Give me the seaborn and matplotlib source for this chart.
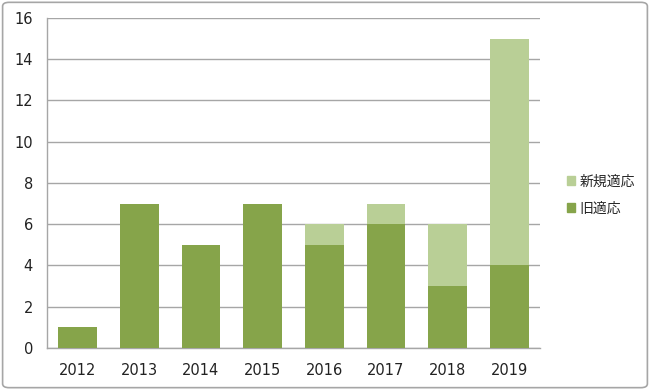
import pandas as pd
import matplotlib.pyplot as plt
import seaborn as sns
from matplotlib.patches import FancyBboxPatch, Patch

years = ['2012', '2013', '2014', '2015', '2016', '2017', '2018', '2019']
old_cases = [1, 7, 5, 7, 5, 6, 3, 4]      # 旧適応
new_cases = [0, 0, 0, 0, 1, 1, 3, 11]     # 新規適応

df = pd.DataFrame({'year': years, 'old': old_cases, 'new': new_cases})
df['total'] = df['old'] + df['new']

dark_green = '#86A44A'
light_green = '#B9CF96'

sns.set_style('white')
plt.rcParams['font.family'] = ['DejaVu Sans', 'Noto Sans CJK JP']

fig = plt.figure(figsize=(6.5, 3.9), dpi=100)
ax = fig.add_axes([0.072, 0.108, 0.759, 0.846])

sns.barplot(data=df, x='year', y='total', color=light_green, width=0.63,
            saturation=1, linewidth=0, ax=ax, zorder=3)
sns.barplot(data=df, x='year', y='old', color=dark_green, width=0.63,
            saturation=1, linewidth=0, ax=ax, zorder=3)

ax.set_ylim(0, 16)
ax.set_yticks(range(0, 17, 2))
ax.yaxis.grid(True, color='#A6A6A6', linewidth=1)
ax.set_axisbelow(True)
ax.set_xlabel('')
ax.set_ylabel('')
for side in ['top', 'right']:
    ax.spines[side].set_visible(False)
for side in ['left', 'bottom']:
    ax.spines[side].set_color('#A6A6A6')
    ax.spines[side].set_linewidth(1)
ax.tick_params(axis='both', length=0, labelsize=10.5, colors='#222222')
ax.tick_params(axis='x', pad=11)
ax.tick_params(axis='y', pad=10)

handles = [Patch(color=light_green, label='新規適応'),
           Patch(color=dark_green, label='旧適応')]
fig.legend(handles=handles, loc='center left', bbox_to_anchor=(0.853, 0.5),
           frameon=False, handlelength=0.6, handleheight=0.6,
           handletextpad=0.3, labelspacing=0.9,
           prop={'family': ['Noto Sans CJK JP'], 'size': 10})

border = FancyBboxPatch((0.004, 0.006), 0.992, 0.988, boxstyle='round,pad=0,rounding_size=0.01',
                        transform=fig.transFigure, facecolor='none',
                        edgecolor='#A6A6A6', linewidth=1.2)
fig.patches.append(border)

fig.savefig('out.png', dpi=100)
